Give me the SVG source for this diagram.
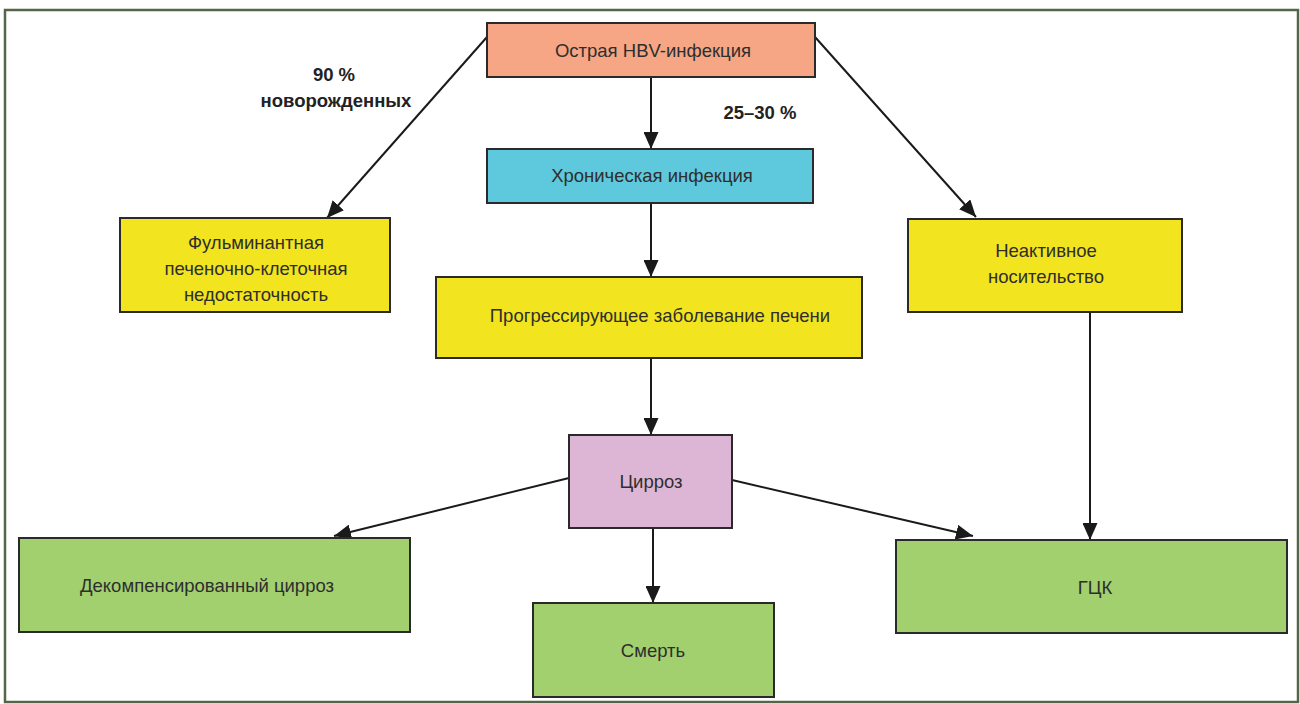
<svg xmlns="http://www.w3.org/2000/svg" width="1300" height="704" viewBox="0 0 1300 704">
<defs>
<marker id="ah" viewBox="0 0 17 15" refX="17" refY="7.5" markerWidth="17" markerHeight="15" markerUnits="userSpaceOnUse" orient="auto">
<path d="M0,0 L17,7.5 L0,15 z" fill="#1a1a1a"/>
</marker>
<style>
.box{stroke:#2a2a2a;stroke-width:2}
.t{font-family:"Liberation Sans",Arial,sans-serif;font-size:18.5px;fill:#2e2e2e;text-anchor:middle}
.b{font-family:"Liberation Sans",Arial,sans-serif;font-size:18.5px;font-weight:bold;fill:#222;text-anchor:middle}
.c{stroke:#1a1a1a;stroke-width:2;fill:none;marker-end:url(#ah)}
</style>
</defs>
<rect width="1300" height="704" fill="#fff"/>
<rect x="5" y="10" width="1293" height="692" fill="none" stroke="#55654a" stroke-width="2.5"/>
<g id="connectors">
<line class="c" x1="487" y1="37" x2="327" y2="218"/>
<line class="c" x1="815" y1="37" x2="976" y2="217"/>
<line class="c" x1="651" y1="77" x2="651" y2="149"/>
<line class="c" x1="651" y1="203" x2="651" y2="277"/>
<line class="c" x1="651" y1="358" x2="651" y2="435"/>
<line class="c" x1="569" y1="478" x2="334" y2="536"/>
<line class="c" x1="732" y1="480" x2="973" y2="536"/>
<line class="c" x1="653" y1="528" x2="653" y2="603"/>
<line class="c" x1="1090" y1="312" x2="1090" y2="540"/>
</g>
<g id="lbl-90">
<text class="b" x="334" y="81">90 %</text>
<text class="b" x="336" y="107">новорожденных</text>
</g>
<g id="lbl-25">
<text class="b" x="760" y="119">25–30 %</text>
</g>
<g id="acute">
<rect class="box" x="487" y="23" width="328" height="54" fill="#f6a684"/>
<text class="t" x="653" y="57">Острая HBV-инфекция</text>
</g>
<g id="chronic">
<rect class="box" x="487" y="149" width="326" height="54" fill="#5ec8dc"/>
<text class="t" x="652" y="182">Хроническая инфекция</text>
</g>
<g id="fulminant">
<rect class="box" x="120" y="218" width="270" height="94" fill="#f2e41e"/>
<text class="t" x="256" y="249">Фульминантная</text>
<text class="t" x="256" y="275">печеночно-клеточная</text>
<text class="t" x="256" y="301">недостаточность</text>
</g>
<g id="inactive">
<rect class="box" x="908" y="219" width="274" height="93" fill="#f2e41e"/>
<text class="t" x="1046" y="257">Неактивное</text>
<text class="t" x="1046" y="283">носительство</text>
</g>
<g id="progressive">
<rect class="box" x="436" y="277" width="426" height="81" fill="#f2e41e"/>
<text class="t" x="660" y="322">Прогрессирующее заболевание печени</text>
</g>
<g id="cirrhosis">
<rect class="box" x="569" y="435" width="163" height="93" fill="#ddb6d6"/>
<text class="t" x="651" y="488">Цирроз</text>
</g>
<g id="decomp">
<rect class="box" x="19" y="538" width="391" height="94" fill="#a2d06e"/>
<text class="t" x="207" y="592">Декомпенсированный цирроз</text>
</g>
<g id="death">
<rect class="box" x="533" y="603" width="241" height="94" fill="#a2d06e"/>
<text class="t" x="653" y="657">Смерть</text>
</g>
<g id="hcc">
<rect class="box" x="896" y="540" width="391" height="93" fill="#a2d06e"/>
<text class="t" x="1095" y="594">ГЦК</text>
</g>
</svg>
